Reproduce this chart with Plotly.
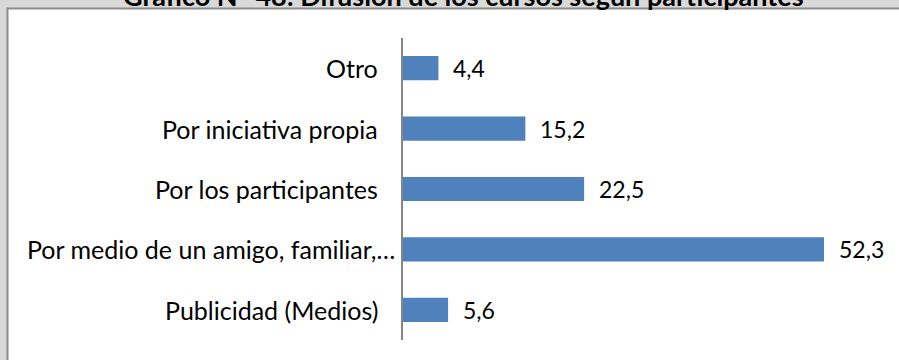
import plotly.graph_objects as go

# Survey answers: how participants heard about the courses (percent)
categorias = ["Otro", "Por iniciativa propia", "Por los participantes",
              "Por medio de un amigo, familiar,…", "Publicidad (Medios)"]
valores = [4.4, 15.2, 22.5, 52.3, 5.6]
titulo = "Gráfico N° 48: Difusión de los cursos según participantes"

FONT = "Lato"
AZUL = "#4f81bd"

fig = go.Figure(go.Bar(
    x=valores, y=categorias, orientation="h",
    marker=dict(color=AZUL, line=dict(width=0)),
    width=0.4, hoverinfo="skip",
))

annotations = []
# value labels to the right of each bar, decimal comma
for c, v in zip(categorias, valores):
    annotations.append(dict(
        x=v, y=c, xref="x", yref="y", text=f"{v:.1f}".replace(".", ","),
        showarrow=False, xanchor="left", xshift=13,
        font=dict(family=FONT, size=23, color="#000"),
    ))
# category labels left of the axis
for c in categorias:
    annotations.append(dict(
        x=0, y=c, xref="x", yref="y", text=c,
        showarrow=False, xanchor="right",
        xshift=-6 if c.endswith("…") else -23,
        font=dict(family=FONT, size=25, color="#000"),
    ))
# title, sitting mostly above the visible frame
annotations.append(dict(
    x=(463 - 403) / 483, xref="paper", y=1.0795, yref="paper",
    text=f"<b>{titulo}</b>",
    showarrow=False, xanchor="center", yanchor="bottom",
    font=dict(family=FONT, size=27, color="#000"),
))

fig.update_layout(
    width=899, height=360,
    margin=dict(l=403, r=13, t=38, b=20),
    paper_bgcolor="#d9d9d9", plot_bgcolor="rgba(0,0,0,0)",
    showlegend=False,
    annotations=annotations,
    shapes=[dict(
        type="rect", xref="paper", yref="paper", layer="below",
        x0=(7.5 - 403) / 483, x1=(905 - 403) / 483,
        y0=-(30) / 302, y1=1 + (29.5) / 302,
        fillcolor="white", line=dict(color="#8c8c8c", width=2),
    )],
    xaxis=dict(range=[0, 60], visible=False, fixedrange=True),
    yaxis=dict(
        categoryorder="array", categoryarray=categorias, autorange="reversed",
        showticklabels=False, showgrid=False, zeroline=False,
        showline=True, linecolor="#868686", linewidth=1.5, ticks="",
        fixedrange=True,
    ),
)

fig.write_html("out.html", config={"displayModeBar": False})
